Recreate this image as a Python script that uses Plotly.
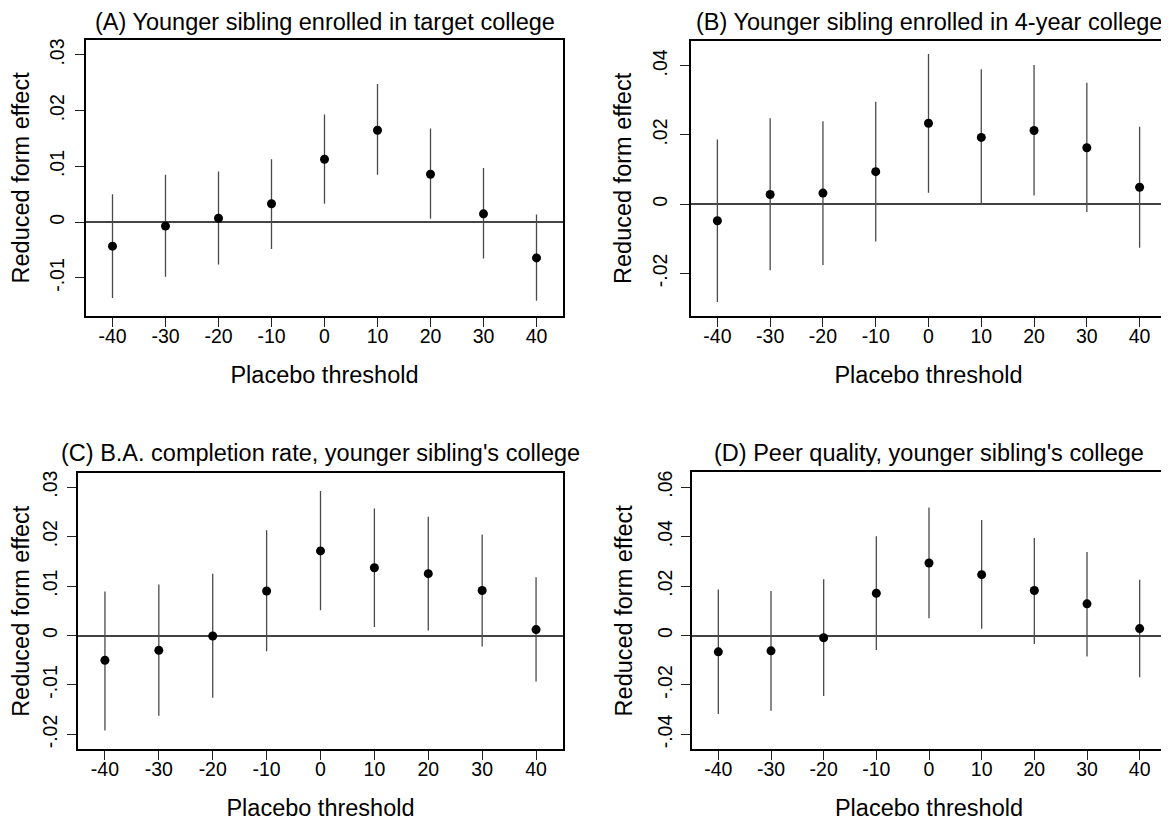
import plotly.graph_objects as go

# ---------------- data ----------------
thresholds = [-40, -30, -20, -10, 0, 10, 20, 30, 40]

# (A) Younger sibling enrolled in target college
a_est = [-0.0043, -0.0007, 0.0007, 0.0033, 0.0113, 0.0165, 0.0086, 0.0015, -0.0064]
a_lo = [-0.0136, -0.0098, -0.0076, -0.0048, 0.0033, 0.0085, 0.0006, -0.0065, -0.0141]
a_hi = [0.0050, 0.0085, 0.0091, 0.0113, 0.0193, 0.0248, 0.0168, 0.0097, 0.0014]

# (B) Younger sibling enrolled in 4-year college
b_est = [-0.0048, 0.0028, 0.0032, 0.0094, 0.0234, 0.0193, 0.0213, 0.0163, 0.0049]
b_lo = [-0.0283, -0.0191, -0.0176, -0.0108, 0.0033, -0.0002, 0.0025, -0.0023, -0.0126]
b_hi = [0.0187, 0.0248, 0.0240, 0.0296, 0.0434, 0.0390, 0.0402, 0.0351, 0.0224]

# (C) B.A. completion rate, younger sibling's college
c_est = [-0.0050, -0.0030, -0.0001, 0.0090, 0.0171, 0.0137, 0.0125, 0.0091, 0.0012]
c_lo = [-0.0192, -0.0162, -0.0126, -0.0032, 0.0051, 0.0017, 0.0010, -0.0022, -0.0093]
c_hi = [0.0089, 0.0103, 0.0125, 0.0213, 0.0292, 0.0257, 0.0240, 0.0204, 0.0118]

# (D) Peer quality, younger sibling's college
d_est = [-0.0066, -0.0062, -0.0009, 0.0171, 0.0293, 0.0246, 0.0182, 0.0128, 0.0028]
d_lo = [-0.0317, -0.0304, -0.0245, -0.0059, 0.0070, 0.0027, -0.0034, -0.0085, -0.0169]
d_hi = [0.0186, 0.0180, 0.0227, 0.0401, 0.0518, 0.0467, 0.0394, 0.0338, 0.0225]

titles = [
    "(A) Younger sibling enrolled in target college",
    "(B) Younger sibling enrolled in 4-year college",
    "(C) B.A. completion rate, younger sibling's college",
    "(D) Peer quality, younger sibling's college",
]
x_ticks = [-40, -30, -20, -10, 0, 10, 20, 30, 40]
x_ticklabels = ["-40", "-30", "-20", "-10", "0", "10", "20", "30", "40"]
y_tickvals = [
    [-0.01, 0, 0.01, 0.02, 0.03],
    [-0.02, 0, 0.02, 0.04],
    [-0.02, -0.01, 0, 0.01, 0.02, 0.03],
    [-0.04, -0.02, 0, 0.02, 0.04, 0.06],
]
y_ticktext = [
    ["-.01", "0", ".01", ".02", ".03"],
    ["-.02", "0", ".02", ".04"],
    ["-.02", "-.01", "0", ".01", ".02", ".03"],
    ["-.04", "-.02", "0", ".02", ".04", ".06"],
]
y_ranges = [
    [-0.0168, 0.0327],
    [-0.0323, 0.0472],
    [-0.0230, 0.0328],
    [-0.0460, 0.0660],
]
x_title = "Placebo threshold"
y_title = "Reduced form effect"

# ---------------- layout geometry (window pixels) ----------------
# the page body has an 8px margin, so the figure is drawn 8px in from the corner
OFF = 8
W, H = 1169 - OFF, 821 - OFF
boxes = [  # left, right, top, bottom (window pixels)
    (86, 563, 37, 314),
    (691, 1166, 38, 314),
    (78, 563, 472, 749),
    (692, 1166, 471, 749),
]
title_y = [19, 19, 452, 452]
ytitle_standoff = [12, 11, 6, 15]
ylabel_standoff = [3, 5, 2, 1]


def px(xp):
    return (xp - OFF) / W


def py(yp):
    return 1 - (yp - OFF) / H


FONT = "Liberation Sans, Arial, Helvetica, sans-serif"
TICK_SIZE = 19.5
TITLE_SIZE = 23.5

series = [(a_est, a_lo, a_hi), (b_est, b_lo, b_hi), (c_est, c_lo, c_hi), (d_est, d_lo, d_hi)]

fig = go.Figure()
annotations = []
for i, (est, lo, hi) in enumerate(series):
    k = "" if i == 0 else str(i + 1)
    up = [h - e for h, e in zip(hi, est)]
    dn = [e - l for e, l in zip(est, lo)]
    fig.add_trace(go.Scatter(
        x=thresholds, y=est, mode="markers",
        xaxis="x" + k, yaxis="y" + k,
        marker=dict(color="black", size=9),
        error_y=dict(type="data", symmetric=False, array=up, arrayminus=dn,
                     width=0, thickness=1.3, color="#4a4a4a"),
        showlegend=False, cliponaxis=False,
    ))
    l, r, t, b = boxes[i]
    fig.update_layout(**{
        "xaxis" + k: dict(
            domain=[px(l), px(r)], anchor="y" + k, range=[-45, 45],
            tickmode="array", tickvals=x_ticks, ticktext=x_ticklabels,
            ticks="outside", ticklen=9, tickwidth=1.3, tickcolor="#222",
            ticklabelstandoff=-7,
            showline=True, linecolor="black", linewidth=1.6, mirror=True,
            showgrid=False, zeroline=False,
            tickfont=dict(family=FONT, size=TICK_SIZE, color="black"),
            title=dict(text=x_title, font=dict(family=FONT, size=TITLE_SIZE, color="black"), standoff=20),
        ),
        "yaxis" + k: dict(
            domain=[py(b), py(t)], anchor="x" + k, range=y_ranges[i],
            tickmode="array", tickvals=y_tickvals[i], ticktext=y_ticktext[i],
            tickangle=-90, ticklabelstandoff=ylabel_standoff[i],
            ticks="outside", ticklen=9, tickwidth=1.3, tickcolor="#222",
            showline=True, linecolor="black", linewidth=1.6, mirror=True,
            showgrid=False, zeroline=True, zerolinecolor="#444", zerolinewidth=1.5,
            tickfont=dict(family=FONT, size=TICK_SIZE, color="black"),
            title=dict(text=y_title, font=dict(family=FONT, size=TITLE_SIZE, color="black"),
                       standoff=ytitle_standoff[i]),
        ),
    })
    annotations.append(dict(
        text=titles[i], xref="paper", yref="paper",
        x=px((l + r) / 2), y=py(title_y[i]),
        xanchor="center", yanchor="middle", showarrow=False,
        font=dict(family=FONT, size=TITLE_SIZE, color="black"),
    ))

fig.update_layout(
    width=W, height=H,
    margin=dict(l=0, r=0, t=0, b=0),
    paper_bgcolor="white", plot_bgcolor="white",
    annotations=annotations,
    showlegend=False,
)

fig.write_html("out.html")
